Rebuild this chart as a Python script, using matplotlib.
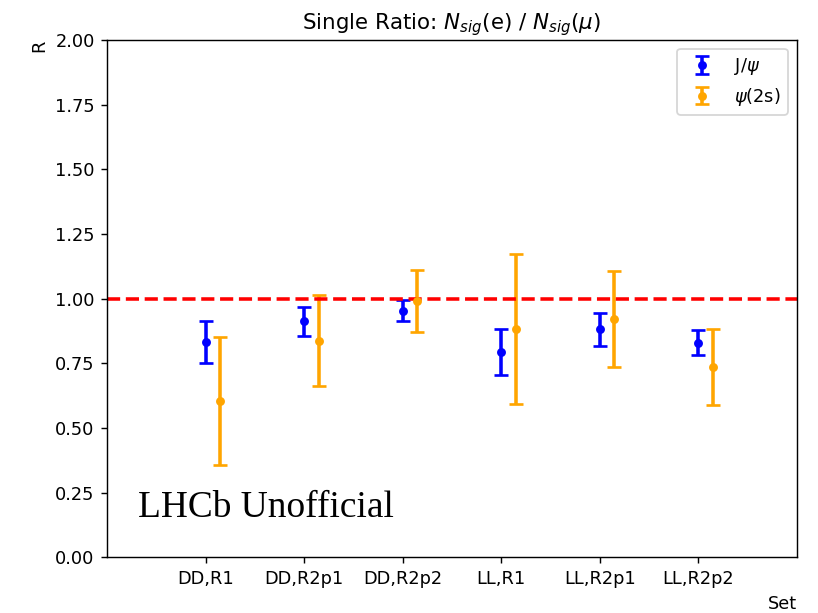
import matplotlib
matplotlib.use('Agg')
import matplotlib.pyplot as plt

sets = ['DD,R1', 'DD,R2p1', 'DD,R2p2', 'LL,R1', 'LL,R2p1', 'LL,R2p2']
jpsi_val = [0.832, 0.913, 0.953, 0.794, 0.881, 0.829]
jpsi_err = [0.080, 0.056, 0.041, 0.090, 0.065, 0.049]
psi2s_val = [0.604, 0.837, 0.990, 0.881, 0.921, 0.735]
psi2s_err = [0.248, 0.175, 0.120, 0.290, 0.187, 0.146]

x = list(range(1, len(sets) + 1))
x_shift = [i + 0.15 for i in x]

fig, ax = plt.subplots(figsize=(818 / 128, 613 / 128), dpi=128)
fig.subplots_adjust(left=0.131, right=0.974, top=0.935, bottom=0.091)

ax.errorbar(x, jpsi_val, yerr=jpsi_err, fmt='o', color='blue', markersize=4,
            elinewidth=2, capthick=1.5, capsize=4, label=r'J/$\psi$')
ax.errorbar(x_shift, psi2s_val, yerr=psi2s_err, fmt='o', color='orange', markersize=4,
            elinewidth=2, capthick=1.5, capsize=4, label=r'$\psi$(2s)')
ax.axhline(1.0, color='red', linestyle='--', linewidth=2)

ax.set_xlim(0, 7)
ax.set_ylim(0, 2)
ax.set_xticks(x)
ax.set_xticklabels(sets)
ax.set_yticks([0, 0.25, 0.5, 0.75, 1.0, 1.25, 1.5, 1.75, 2.0])
ax.set_xlabel('Set', loc='right')
ax.set_ylabel('R', loc='top')
ax.set_title(r'Single Ratio: $N_{sig}$(e) / $N_{sig}(\mu)$')
ax.legend(loc='upper right')

# watermark, baseline aligned
ax.text(0.045, 0.077, 'LHCb Unofficial', transform=ax.transAxes,
        fontsize=21, family='Liberation Serif', ha='left', va='baseline')

fig.savefig('out.png', dpi=128)
